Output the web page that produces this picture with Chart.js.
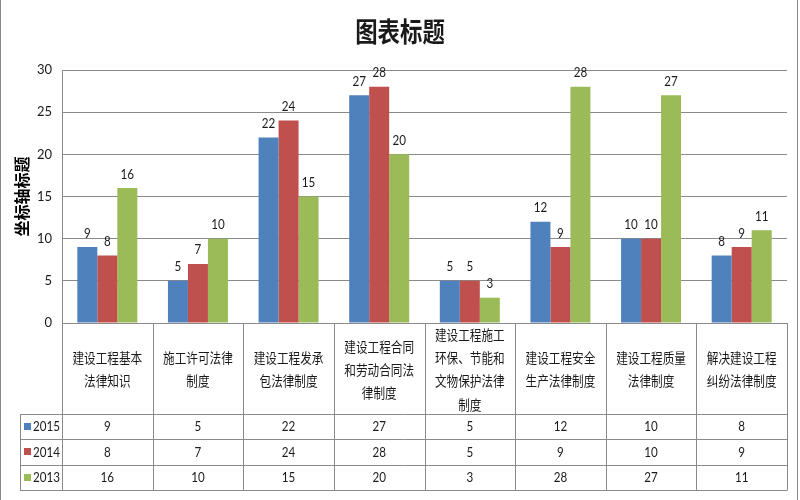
<!DOCTYPE html>
<html><head><meta charset="utf-8">
<script src="https://cdn.jsdelivr.net/npm/chart.js@4.4.1/dist/chart.umd.min.js"></script>
<style>html,body{margin:0;padding:0;background:#fff}canvas{display:block}</style>
</head><body>
<canvas id="c" width="800" height="500"></canvas>
<script>
const chartTitle = '图表标题';
const yAxisTitle = '坐标轴标题';
const categories = [
  ['建设工程基本', '法律知识'],
  ['施工许可法律', '制度'],
  ['建设工程发承', '包法律制度'],
  ['建设工程合同', '和劳动合同法', '律制度'],
  ['建设工程施工', '环保、节能和', '文物保护法律', '制度'],
  ['建设工程安全', '生产法律制度'],
  ['建设工程质量', '法律制度'],
  ['解决建设工程', '纠纷法律制度']
];
const seriesNames = ['2015', '2014', '2013'];
const values2015 = [9, 5, 22, 27, 5, 12, 10, 8];
const values2014 = [8, 7, 24, 28, 5, 9, 10, 9];
const values2013 = [16, 10, 15, 20, 3, 28, 27, 11];
const yTicks = [0, 5, 10, 15, 20, 25, 30];
const seriesValues = [values2015, values2014, values2013];
const colors = ['#4F81BD', '#C0504D', '#9BBB59'];

const SQ = 0.83;
const CJK = '"Noto Sans CJK SC", sans-serif';
const NUM = 'Lato, "Noto Sans CJK SC", sans-serif';
const LINE = '#8a8a8a';
const TXT = '#1a1a1a';

function txt(ctx, s, x, y, font, align) {
  ctx.save();
  ctx.font = font;
  ctx.fillStyle = TXT;
  ctx.textAlign = align || 'center';
  ctx.textBaseline = 'middle';
  ctx.translate(x, y);
  ctx.scale(SQ, 1);
  ctx.fillText(s, 0, 0);
  ctx.restore();
}

const tablePlugin = {
  id: 'tbl',
  afterDraw(chart) {
    const ctx = chart.ctx, xs = chart.scales.x, ca = chart.chartArea;
    const n = categories.length;
    const step = xs.getPixelForValue(1) - xs.getPixelForValue(0);
    const x0 = xs.getPixelForValue(0) - step / 2;
    const top = ca.bottom;
    const labelBottom = top + 91;
    const rowH = 25.4;
    const rowLines = [labelBottom, labelBottom + rowH, labelBottom + 2 * rowH, labelBottom + 3 * rowH];
    const bottom = rowLines[3];
    const legendLeft = 20;
    const right = x0 + n * step;

    // title
    txt(ctx, chartTitle, 400, 32, 'bold 27px ' + CJK, 'center');

    // data labels
    seriesValues.forEach((vals, di) => {
      const meta = chart.getDatasetMeta(di);
      meta.data.forEach((bar, i) => {
        txt(ctx, String(vals[i]), bar.x, bar.y - 14, '14px ' + NUM, 'center');
      });
    });

    ctx.save();
    ctx.strokeStyle = LINE;
    ctx.lineWidth = 1;
    ctx.beginPath();
    const a = v => Math.round(v) + 0.5;
    for (let i = 0; i <= n; i++) {
      const x = a(x0 + i * step);
      ctx.moveTo(x, top); ctx.lineTo(x, bottom);
    }
    ctx.moveTo(a(legendLeft), rowLines[0]); ctx.lineTo(a(legendLeft), a(bottom));
    rowLines.forEach(y => { ctx.moveTo(legendLeft, a(y)); ctx.lineTo(a(right), a(y)); });
    // outer frame
    ctx.moveTo(0.5, 0); ctx.lineTo(0.5, 500);
    ctx.moveTo(797.5, 0); ctx.lineTo(797.5, 500);
    ctx.stroke();
    ctx.restore();

    // category labels
    const lh = 23.3;
    categories.forEach((lines, i) => {
      const cx = xs.getPixelForValue(i);
      const cy = (top + labelBottom) / 2 + 1;
      lines.forEach((ln, k) => {
        txt(ctx, ln, cx, cy + (k - (lines.length - 1) / 2) * lh, '14px ' + CJK, 'center');
      });
    });

    // rows
    seriesValues.forEach((vals, r) => {
      const cy = (rowLines[r] + rowLines[r + 1]) / 2;
      ctx.fillStyle = colors[r];
      ctx.fillRect(24, Math.round(cy) - 4, 7, 7);
      txt(ctx, seriesNames[r], 33, cy, '14px ' + NUM, 'left');
      vals.forEach((v, i) => {
        txt(ctx, String(v), xs.getPixelForValue(i), cy, '14px ' + NUM, 'center');
      });
    });
  }
};

new Chart(document.getElementById('c'), {
  type: 'bar',
  data: {
    labels: categories.map(l => l.join('')),
    datasets: seriesNames.map((name, i) => ({
      label: name,
      data: seriesValues[i],
      backgroundColor: colors[i],
      borderWidth: 0,
      barPercentage: 1,
      categoryPercentage: 0.662
    }))
  },
  options: {
    responsive: false,
    animation: false,
    layout: { padding: { top: 70, right: 13, bottom: 177, left: 0 } },
    plugins: {
      legend: { display: false },
      title: { display: false },
      tooltip: { enabled: false }
    },
    scales: {
      x: { display: false },
      y: {
        min: yTicks[0],
        max: yTicks[yTicks.length - 1],
        afterFit(scale) { scale.width = 62; },
        ticks: {
          stepSize: yTicks[1] - yTicks[0],
          padding: 10,
          color: TXT,
          font: { family: 'Lato', size: 13 }
        },
        grid: { color: LINE, drawTicks: false },
        border: { color: LINE },
        title: {
          display: true,
          text: yAxisTitle,
          color: '#000',
          font: { family: '"Noto Sans CJK SC"', size: 16, weight: 'bold' },
          padding: { top: 12, bottom: 4 }
        }
      }
    }
  },
  plugins: [tablePlugin]
});
</script>
</body></html>
